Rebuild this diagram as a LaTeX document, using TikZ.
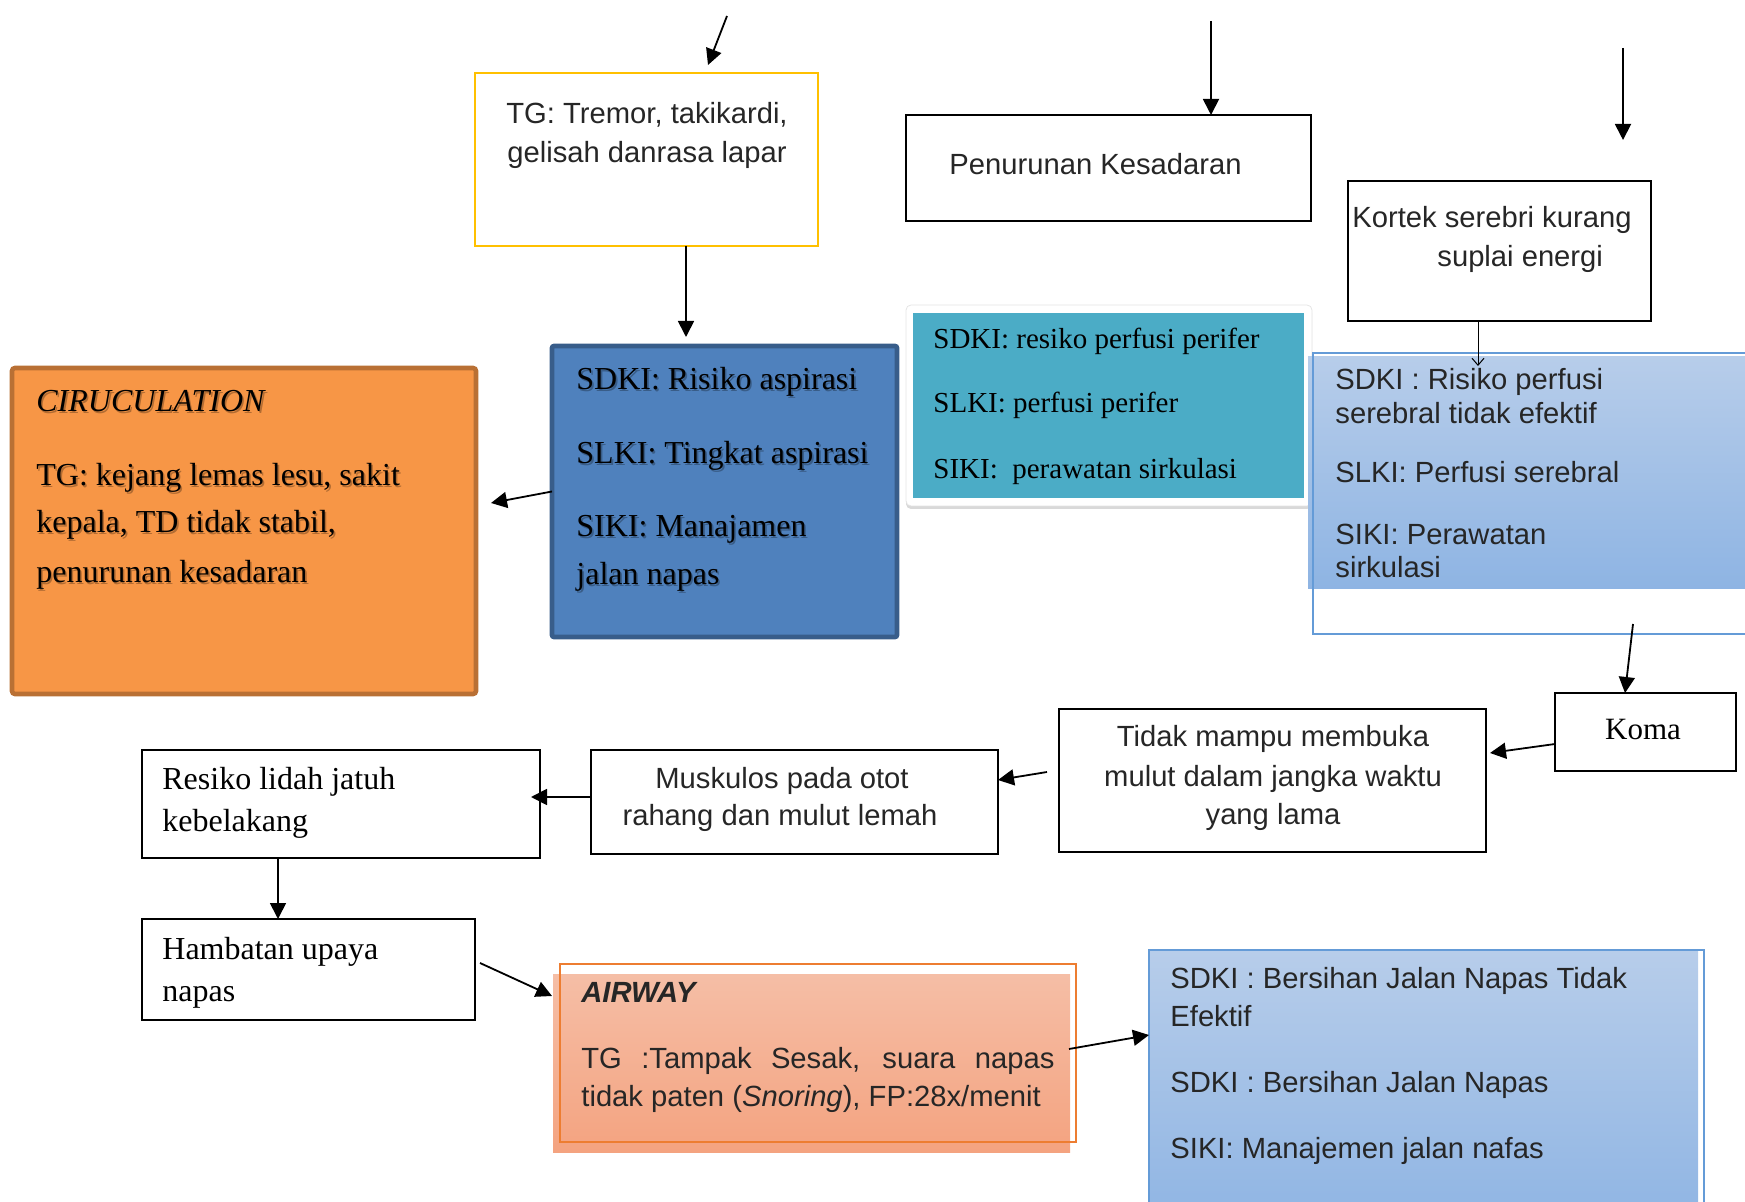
\documentclass[tikz,border=0pt]{standalone}
\usepackage{fontspec}
\setmainfont{Liberation Serif}
\newfontfamily\arialf{Liberation Sans}
\usetikzlibrary{arrows.meta,fit,shadows}
\definecolor{txtgray}{RGB}{38,38,38}
\definecolor{ylw}{RGB}{255,192,0}
\definecolor{bluefill}{RGB}{79,129,189}
\definecolor{blueline}{RGB}{56,93,138}
\definecolor{orgfill}{RGB}{247,150,70}
\definecolor{orgline}{RGB}{185,112,52}
\definecolor{tealbox}{RGB}{75,172,198}
\definecolor{ltop}{RGB}{183,205,234}
\definecolor{lbot}{RGB}{142,180,227}
\definecolor{lline}{RGB}{100,155,215}
\definecolor{stop}{RGB}{245,190,166}
\definecolor{sbot}{RGB}{244,163,128}
\definecolor{sline}{RGB}{237,125,49}
\tikzset{
  sans/.style={font=\arialf\fontsize{14.6}{17}\selectfont, text=txtgray, inner sep=0pt},
  serif/.style={font=\fontsize{16}{19}\selectfont, text=black, inner sep=0pt},
  serifsm/.style={font=\fontsize{14.5}{17}\selectfont, text=black, inner sep=0pt},
  shtxt/.style={text=black, opacity=0.28},
  arr/.style={line width=0.9pt, -{Triangle[length=8pt,width=8pt]}},
  thinarr/.style={line width=0.5pt, -{Straight Barb[length=3.5pt,width=6pt]}},
  box/.style={inner sep=0pt, outer sep=0pt},
  blackbox/.style={box, draw=black, line width=1.4pt},
  thinbox/.style={box, draw=black, line width=0.85pt},
}
\newcommand\shline[4]{%
  \node[#2, shtxt, anchor=base west] (#1s) at ([shift={(1.6,1.6)}]#3) {#4};
  \node[#2, anchor=base west] (#1) at (#3) {#4};}
\begin{document}
\begin{tikzpicture}[x=0.5pt,y=-0.5pt]
\useasboundingbox (0,0) rectangle (1745,1202);
\clip (0,0) rectangle (1745,1202);

% ---------- boxes ----------
\node[box, fit={(475,73) (818,246)}, draw=ylw, line width=1.4pt] (yellowbox) {};
\node[blackbox, fit={(906,115) (1311,221)}] (penbox) {};
\node[blackbox, fit={(1348,181) (1651,321)}] (kortek) {};
\node[box, fit={(552,346) (897,637)}, fill=bluefill, draw=blueline, line width=2.3pt, rounded corners=1pt] (bluebox) {};
\node[box, fit={(12,368) (476,694)}, fill=orgfill, draw=orgline, line width=2.3pt, rounded corners=1.5pt] (orangebox) {};
\node[box, fit={(906,305) (1312,506)}, fill=white, draw=black!10, line width=0.4pt, rounded corners=2.5pt,
      drop shadow={opacity=0.3, shadow xshift=0pt, shadow yshift=-1.5pt}] (tealframe) {};
\node[box, fit={(913,313) (1304,498)}, fill=tealbox] (tealbox) {};
\node[box, fit={(1308,357) (1760,589)}, top color=ltop, bottom color=lbot] (perfill) {};
\node[box, fit={(1313,353) (1770,634)}, draw=lline, line width=0.75pt] (perbox) {};
\node[blackbox, fit={(1555,693) (1736,771)}] (koma) {};
\node[blackbox, fit={(1059,709) (1486,852)}] (tidak) {};
\node[blackbox, fit={(591,750) (998,854)}] (musk) {};
\node[thinbox, fit={(142,750) (540,858)}] (resiko) {};
\node[thinbox, fit={(142,919) (475,1020)}] (hambatan) {};
\node[box, fit={(553,974) (1070,1152)}, top color=stop, bottom color=sbot] (airfill) {};
\node[box, fit={(560,964) (1076,1142)}, draw=sline, line width=0.75pt] (airbox) {};
\node[box, fit={(1149,951) (1698,1230)}, top color=ltop, bottom color=lbot] (berfill) {};
\node[box, fit={(1149,950) (1704,1240)}, draw=lline, line width=0.75pt] (berbox) {};

% ---------- texts ----------
\node[sans, anchor=base] (t1a) at (647,124) {TG: Tremor, takikardi,};
\node[sans, anchor=base] (t1b) at (647,163) {gelisah danrasa lapar};
\node[sans, anchor=base west] (t2) at (949,175) {Penurunan Kesadaran};
\node[sans, anchor=base west] (t3a) at (1352,228) {Kortek serebri kurang};
\node[sans, anchor=base west] (t3b) at (1437,267) {suplai energi};

\coordinate (p4a) at (576,390); \coordinate (p4b) at (576,464);
\coordinate (p4c) at (576,537); \coordinate (p4d) at (576,585);
\shline{t4a}{serif}{p4a}{SDKI: Risiko aspirasi}
\shline{t4b}{serif}{p4b}{SLKI: Tingkat aspirasi}
\shline{t4c}{serif}{p4c}{SIKI: Manajamen}
\shline{t4d}{serif}{p4d}{jalan napas}

\coordinate (p5a) at (36,412); \coordinate (p5b) at (36,486);
\coordinate (p5c) at (36,533); \coordinate (p5d) at (36,583);
\shline{t5a}{serif}{p5a}{\itshape CIRUCULATION}
\shline{t5b}{serif}{p5b}{TG: kejang lemas lesu, sakit}
\shline{t5c}{serif}{p5c}{kepala, TD tidak stabil,}
\shline{t5d}{serif}{p5d}{penurunan kesadaran}

\node[serifsm, anchor=base west] (t6a) at (933,349) {SDKI: resiko perfusi perifer};
\node[serifsm, anchor=base west] (t6b) at (933,413) {SLKI: perfusi perifer};
\node[serifsm, anchor=base west] (t6c) at (933,479) {SIKI:\ \ perawatan sirkulasi};

\node[sans, anchor=base west] (t7a) at (1335,390) {SDKI : Risiko perfusi};
\node[sans, anchor=base west] (t7b) at (1335,424) {serebral tidak efektif};
\node[sans, anchor=base west] (t7c) at (1335,483) {SLKI: Perfusi serebral};
\node[sans, anchor=base west] (t7d) at (1335,545) {SIKI: Perawatan};
\node[sans, anchor=base west] (t7e) at (1335,578) {sirkulasi};

\node[serif, font=\fontsize{15.5}{18}\selectfont, anchor=base] (t8) at (1643,740) {Koma};

\node[sans, anchor=base] (t9a) at (1273,747) {Tidak mampu membuka};
\node[sans, anchor=base] (t9b) at (1273,786) {mulut dalam jangka waktu};
\node[sans, anchor=base] (t9c) at (1273,824) {yang lama};

\node[sans, anchor=base] (t10a) at (782,788) {Muskulos pada otot};
\node[sans, anchor=base] (t10b) at (780,825) {rahang dan mulut lemah};

\node[serif, anchor=base west] (t11a) at (162,789) {Resiko lidah jatuh};
\node[serif, anchor=base west] (t11b) at (162,831) {kebelakang};
\node[serif, anchor=base west] (t12a) at (162,959) {Hambatan upaya};
\node[serif, anchor=base west] (t12b) at (162,1001) {napas};

\node[sans, anchor=base west] (t13a) at (581,1002) {\bfseries\itshape AIRWAY};
\node[sans, anchor=base west] (t13b) at (581,1068) {\makebox[236.5pt][s]{TG :Tampak Sesak, suara napas}};
\node[sans, anchor=base west] (t13c) at (581,1106) {tidak paten (\textit{Snoring}), FP:28x/menit};

\node[sans, anchor=base west] (t14a) at (1170,988) {SDKI : Bersihan Jalan Napas Tidak};
\node[sans, anchor=base west] (t14b) at (1170,1026) {Efektif};
\node[sans, anchor=base west] (t14c) at (1170,1092) {SDKI : Bersihan Jalan Napas};
\node[sans, anchor=base west] (t14d) at (1170,1158) {SIKI: Manajemen jalan nafas};

% ---------- connectors ----------
\coordinate (a1s) at (727,16); \coordinate (a1e) at (708,65);
\draw[arr] (a1s) -- (a1e);
\coordinate (a2e) at (686,337);
\draw[arr] (yellowbox.south -| a2e) -- (a2e);
\coordinate (a3s) at (1211,21);
\draw[arr] (a3s) -- (penbox.north -| a3s);
\coordinate (a4s) at (1623,48); \coordinate (a4e) at (1623,140);
\draw[arr] (a4s) -- (a4e);
\coordinate (a5e) at (1478,366);
\draw[thinarr] (kortek.south -| a5e) -- (a5e);
\coordinate (a6e) at (491,503);
\draw[arr] (bluebox.west) -- (a6e);
\coordinate (a7s) at (1633,624); \coordinate (a7x) at (1625,0);
\draw[arr] (a7s) -- (koma.north -| a7x);
\coordinate (a8y) at (0,744); \coordinate (a8e) at (1490,753);
\draw[arr] (koma.west |- a8y) -- (a8e);
\coordinate (a9s) at (1047,772); \coordinate (a9y) at (0,780);
\draw[arr] (a9s) -- (musk.east |- a9y);
\coordinate (a10y) at (0,797);
\draw[arr] (musk.west |- a10y) -- ([xshift=-4.5pt]resiko.east |- a10y);
\coordinate (a11x) at (278,0);
\draw[arr] (resiko.south -| a11x) -- (hambatan.north -| a11x);
\coordinate (a12s) at (480,963); \coordinate (a12e) at (552,996);
\draw[arr] (a12s) -- (a12e);
\coordinate (a13s) at (1069,1049); \coordinate (a13y) at (0,1035);
\draw[arr] (a13s) -- (berbox.west |- a13y);
\end{tikzpicture}
\end{document}
